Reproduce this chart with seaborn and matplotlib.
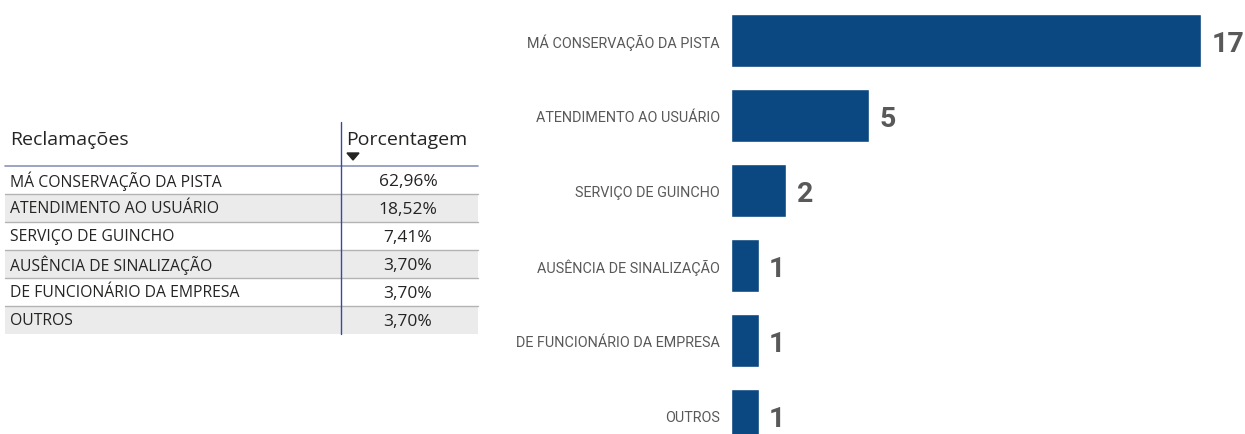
import matplotlib
matplotlib.use("Agg")
import matplotlib.pyplot as plt
import pandas as pd
import seaborn as sns
from matplotlib.patches import Rectangle, Polygon

# dados
categorias = [
    "MÁ CONSERVAÇÃO DA PISTA",
    "ATENDIMENTO AO USUÁRIO",
    "SERVIÇO DE GUINCHO",
    "AUSÊNCIA DE SINALIZAÇÃO",
    "DE FUNCIONÁRIO DA EMPRESA",
    "OUTROS",
]
quantidades = [17, 5, 2, 1, 1, 1]
porcentagens = ["62,96%", "18,52%", "7,41%", "3,70%", "3,70%", "3,70%"]

AZUL = "#0B4780"
CINZA_TXT = "#595959"
TXT = "#252423"

sns.set_theme(style="white")
plt.rcParams["font.family"] = ["Open Sans", "DejaVu Sans"]

W, H = 1245, 435
fig = plt.figure(figsize=(W / 100, H / 100), dpi=100)

# --- gráfico de barras ---
ax = fig.add_axes([731 / W, 0, (W - 731) / W, 1])
df = pd.DataFrame({"cat": categorias, "qtd": quantidades})
sns.barplot(data=df, y="cat", x="qtd", orient="h", color=AZUL, width=0.707,
            saturation=1, ax=ax)
ax.set_xlim(0, (W - 731) / 27.65)
ax.set_ylim(5.253, -0.547)
ax.set_xlabel("")
ax.set_ylabel("")
ax.set_xticks([])
sns.despine(ax=ax, left=True, bottom=True)
ax.tick_params(axis="y", length=0, pad=8)
for lab in ax.get_yticklabels():
    lab.set_fontfamily(["Roboto", "DejaVu Sans"])
    lab.set_fontsize(10.4)
    lab.set_color(CINZA_TXT)
for i, v in enumerate(quantidades):
    ax.text(v + 0.38, i + 0.05, str(v), va="center", ha="left", fontsize=20.5,
            fontweight="bold", color=CINZA_TXT, family=["Roboto", "DejaVu Sans"])

# --- tabela ---
tb = fig.add_axes([0, 0, 1, 1])
tb.set_xlim(0, W)
tb.set_ylim(H, 0)
tb.axis("off")
tb.patch.set_alpha(0)

x0, x1, xdiv = 5, 478, 341
y_head = 167
row_h = 28
for i, (cat, pct) in enumerate(zip(categorias, porcentagens)):
    y = y_head + i * row_h
    if i % 2 == 1:
        tb.add_patch(Rectangle((x0, y), x1 - x0, row_h, color="#EBEBEB", lw=0))
    if i > 0:
        tb.plot([x0, x1], [y, y], color="#B3B3B3", lw=1)
    tb.text(10, y + row_h / 2, cat, va="center", ha="left", fontsize=11.3, color=TXT)
    tb.text(408, y + row_h / 2 + 1, pct, va="center", ha="center", fontsize=12.5, color=TXT)

tb.plot([x0, x1], [y_head, y_head], color="#8A93B8", lw=1.2)
tb.plot([xdiv, xdiv], [123, y_head + 6 * row_h], color="#3A4A9A", lw=1)
tb.text(10, 140, "Reclamações", va="center", ha="left", fontsize=14, color=TXT)
tb.text(346, 140, "Porcentagem", va="center", ha="left", fontsize=14, color=TXT)
tb.add_patch(Polygon([[347, 154], [359, 154], [353, 161]], closed=True, color="#252423"))

fig.savefig("out.png", dpi=100)
